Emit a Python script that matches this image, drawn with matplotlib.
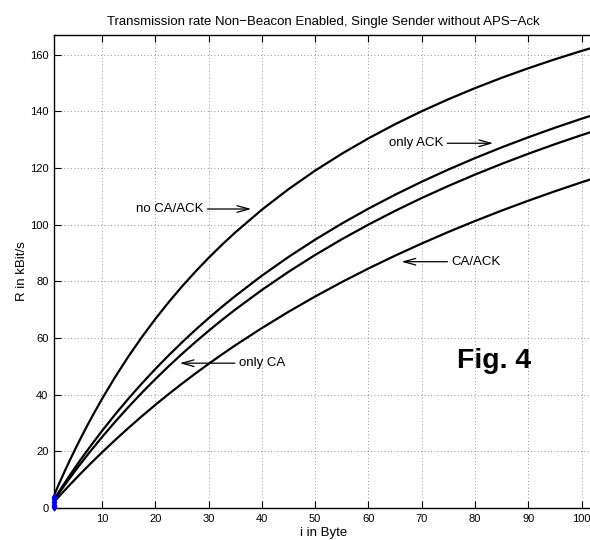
import matplotlib
matplotlib.use("Agg")
import matplotlib.pyplot as plt

plt.rcParams['font.family'] = ['Liberation Sans', 'DejaVu Sans']

# payload size i (Byte)
i_byte = [1, 2, 3, 4, 5, 6, 7, 8, 10, 12.5, 15, 17.5, 20, 22.5, 25, 27.5, 30, 32.5,
          35, 40, 45, 50, 55, 60, 65, 70, 75, 80, 85, 90, 95, 100, 105, 110]
# transmission rate R (kBit/s)
r_no_ca_ack = [4.46, 8.77, 12.93, 16.95, 20.83, 24.59, 28.23, 31.75, 38.46, 46.30,
               53.57, 60.34, 66.67, 72.58, 78.13, 83.33, 88.24, 92.86, 97.22, 105.26,
               112.5, 119.05, 125.0, 130.43, 135.42, 140.0, 144.23, 148.15, 151.79,
               155.17, 158.33, 161.29, 164.06, 166.67]
r_only_ack = [3.01, 5.95, 8.82, 11.63, 14.37, 17.05, 19.66, 22.22, 27.17, 33.07,
              38.66, 43.97, 49.02, 53.83, 58.41, 62.79, 66.96, 70.96, 74.79, 81.97,
              88.58, 94.70, 100.36, 105.63, 110.54, 115.13, 119.43, 123.46, 127.25,
              130.81, 134.18, 137.36, 140.37, 143.23]
r_only_ca = [2.75, 5.43, 8.06, 10.64, 13.16, 15.63, 18.04, 20.41, 25.0, 30.49,
             35.71, 40.70, 45.45, 50.0, 54.35, 58.51, 62.5, 66.33, 70.0, 76.92,
             83.33, 89.29, 94.83, 100.0, 104.84, 109.38, 113.64, 117.65, 121.43,
             125.0, 128.38, 131.58, 134.62, 137.5]
r_ca_ack = [2.11, 4.18, 6.22, 8.23, 10.20, 12.15, 14.06, 15.94, 19.61, 24.04,
            28.30, 32.41, 36.36, 40.18, 43.86, 47.41, 50.85, 54.17, 57.38, 63.49,
            69.23, 74.63, 79.71, 84.51, 89.04, 93.33, 97.40, 101.27, 104.94,
            108.43, 111.76, 114.94, 117.98, 120.88]
# blue start markers
marker_x = [1, 1, 1, 1, 1]
marker_y = [0.3, 1.2, 2.1, 3.0, 3.9]

x_ticks = [10, 20, 30, 40, 50, 60, 70, 80, 90, 100]
y_ticks = [0, 20, 40, 60, 80, 100, 120, 140, 160]

fig = plt.figure(figsize=(5.9, 5.4), dpi=100)
ax = fig.add_axes([54 / 590, 32 / 540, 538.3 / 590, 473.3 / 540])

for r in (r_no_ca_ack, r_only_ack, r_only_ca, r_ca_ack):
    ax.plot(i_byte, r, color='black', lw=1.6, solid_capstyle='round',
            solid_joinstyle='round')
ax.plot(marker_x, marker_y, linestyle='none', marker='d', color='blue',
        markersize=3.5, clip_on=False, zorder=5)

ax.set_xlim(1, 102)
ax.set_ylim(0, 167)
ax.set_xticks(x_ticks)
ax.set_yticks(y_ticks)
ax.tick_params(direction='in', length=5, width=0.8, labelsize=8, pad=4,
               top=True, right=False)
ax.grid(True, color='0.45', linestyle=(0, (1, 3)), linewidth=0.6)
for s in ax.spines.values():
    s.set_linewidth(1.0)
ax.spines['right'].set_visible(False)

ax.set_title('Transmission rate Non\u2212Beacon Enabled, Single Sender without APS\u2212Ack',
             fontsize=9.5, pad=7)
ax.set_xlabel('i in Byte', fontsize=9.5, labelpad=2.5)
ax.set_ylabel('R in kBit/s', fontsize=9.5, labelpad=1.5)

arrow = dict(arrowstyle='->,head_length=0.9,head_width=0.25', color='black',
             lw=0.9, shrinkA=1, shrinkB=0)
ax.annotate('no CA/ACK', xy=(38.0, 105.5), xytext=(29.0, 105.5), ha='right',
            va='center', fontsize=9.5, arrowprops=arrow)
ax.annotate('only CA', xy=(24.6, 51.1), xytext=(35.7, 51.1), ha='left',
            va='center', fontsize=9.5, arrowprops=arrow)
ax.annotate('only ACK', xy=(83.4, 128.7), xytext=(74.0, 128.7), ha='right',
            va='center', fontsize=9.5, arrowprops=arrow)
ax.annotate('CA/ACK', xy=(66.2, 86.9), xytext=(75.6, 86.9), ha='left',
            va='center', fontsize=9.5, arrowprops=arrow)

ax.text(76.7, 49.5, 'Fig. 4', fontsize=20.5, fontweight='bold', ha='left',
        va='baseline')

fig.savefig('out.png', dpi=100)
